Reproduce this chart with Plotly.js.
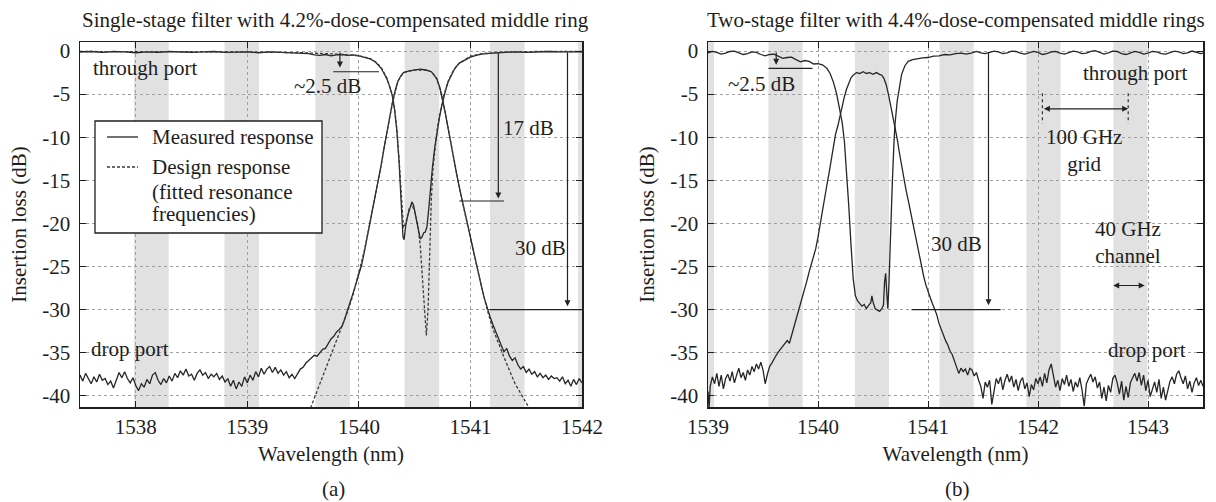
<!DOCTYPE html>
<html><head><meta charset="utf-8">
<script src="https://cdn.plot.ly/plotly-3.0.1.min.js"></script>
<style>html,body{margin:0;padding:0;background:#fff}#chart{width:1216px;height:502px}</style>
</head><body><div id="chart"></div>
<script>
// ---------- DATA ----------
const xTicksA = [1538, 1539, 1540, 1541, 1542];
const xTicksB = [1539, 1540, 1541, 1542, 1543];
const yTicks = [0, -5, -10, -15, -20, -25, -30, -35, -40];
const yTickText = ['0', '-5', '-10', '-15', '-20', '-25', '-30', '-35', '-40'];

// ITU 100 GHz grid channels (shaded 40 GHz bands)
const channelsA = [1538.14, 1538.95, 1539.765, 1540.565, 1541.33, 1542.12];
const channelsB = [1538.9, 1539.705, 1540.49, 1541.26, 1542.05, 1542.84];
const channelWidth = 0.31;

// (a) measured through port
const aThruWl = [1537.5,1537.6,1537.7,1537.8,1537.9,1538.0,1538.1,1538.2,1538.3,1538.4,1538.5,1538.6,1538.7,1538.8,1538.9,1539.0,1539.1,1539.2,1539.3,1539.4,1539.5,1539.55,1539.6,1539.65,1539.7,1539.75,1539.8,1539.85,1539.9,1539.95,1540.0,1540.05,1540.1,1540.15,1540.2,1540.225,1540.25,1540.275,1540.3,1540.32,1540.34,1540.36,1540.38,1540.395,1540.405,1540.42,1540.44,1540.46,1540.475,1540.49,1540.51,1540.53,1540.55,1540.565,1540.58,1540.595,1540.61,1540.625,1540.64,1540.66,1540.68,1540.7,1540.72,1540.74,1540.76,1540.78,1540.8,1540.83,1540.86,1540.9,1540.95,1541.0,1541.05,1541.1,1541.2,1541.3,1541.4,1541.5,1541.6,1541.7,1541.8,1541.9,1542.0];
const aThruDb = [-0.1,-0.05,-0.15,-0.05,-0.1,-0.2,-0.1,-0.15,-0.05,-0.1,-0.15,-0.1,-0.05,-0.15,-0.1,-0.1,-0.2,-0.1,-0.15,-0.2,-0.25,-0.3,-0.45,-0.5,-0.4,-0.55,-0.45,-0.4,-0.5,-0.45,-0.55,-0.7,-0.9,-1.3,-2.0,-2.6,-3.2,-4.1,-5.2,-6.8,-9.2,-12.8,-17.5,-21.5,-21.9,-20.2,-19.0,-18.0,-17.5,-17.9,-19.2,-20.8,-21.8,-21.6,-21.1,-21.0,-20.4,-18.5,-16.0,-13.4,-11.2,-9.4,-7.9,-6.5,-5.3,-4.4,-3.6,-2.7,-2.0,-1.4,-1.0,-0.7,-0.5,-0.35,-0.25,-0.15,-0.1,-0.15,-0.1,-0.05,-0.1,-0.1,-0.1];

// (a) measured drop port
const aDropWl = [1537.5,1537.525,1537.55,1537.575,1537.6,1537.625,1537.65,1537.675,1537.7,1537.725,1537.75,1537.775,1537.8,1537.825,1537.85,1537.875,1537.9,1537.925,1537.95,1537.975,1538.0,1538.025,1538.05,1538.075,1538.1,1538.125,1538.15,1538.175,1538.2,1538.225,1538.25,1538.275,1538.3,1538.325,1538.35,1538.375,1538.4,1538.425,1538.45,1538.475,1538.5,1538.525,1538.55,1538.575,1538.6,1538.625,1538.65,1538.675,1538.7,1538.725,1538.75,1538.775,1538.8,1538.825,1538.85,1538.875,1538.9,1538.925,1538.95,1538.975,1539.0,1539.025,1539.05,1539.075,1539.1,1539.125,1539.15,1539.175,1539.2,1539.225,1539.25,1539.275,1539.3,1539.325,1539.35,1539.375,1539.4,1539.425,1539.45,1539.475,1539.5,1539.525,1539.55,1539.575,1539.6,1539.625,1539.65,1539.675,1539.7,1539.725,1539.75,1539.775,1539.8,1539.825,1539.85,1539.875,1539.9,1539.925,1539.95,1539.975,1540.0,1540.025,1540.05,1540.075,1540.1,1540.125,1540.15,1540.175,1540.2,1540.225,1540.25,1540.275,1540.3,1540.325,1540.35,1540.375,1540.4,1540.45,1540.5,1540.55,1540.6,1540.65,1540.675,1540.7,1540.725,1540.75,1540.775,1540.8,1540.825,1540.85,1540.875,1540.9,1540.925,1540.95,1540.975,1541.0,1541.025,1541.05,1541.075,1541.1,1541.125,1541.15,1541.175,1541.2,1541.225,1541.25,1541.275,1541.3,1541.325,1541.35,1541.375,1541.4,1541.425,1541.45,1541.475,1541.5,1541.525,1541.55,1541.575,1541.6,1541.625,1541.65,1541.675,1541.7,1541.725,1541.75,1541.775,1541.8,1541.825,1541.85,1541.875,1541.9,1541.925,1541.95,1541.975,1542.0];
const aDropDb = [-37.6,-38.3,-37.4,-38.1,-38.6,-37.8,-38.4,-37.5,-38.2,-38.0,-38.7,-38.3,-39.1,-38.2,-37.3,-37.9,-37.2,-38.0,-38.5,-37.9,-38.8,-39.4,-38.6,-39.0,-38.1,-38.6,-37.6,-37.3,-38.2,-38.7,-38.0,-38.5,-37.7,-38.3,-37.4,-37.9,-37.1,-37.6,-36.9,-37.7,-37.5,-38.2,-37.4,-37.0,-37.6,-37.3,-38.0,-37.5,-37.8,-37.4,-38.1,-37.7,-38.4,-38.0,-38.9,-38.2,-39.2,-38.4,-38.9,-37.8,-38.5,-37.6,-38.2,-37.2,-37.8,-36.8,-37.5,-36.9,-36.6,-37.3,-36.7,-37.4,-37.0,-37.6,-37.2,-37.9,-37.5,-38.0,-37.4,-36.9,-36.7,-36.2,-35.9,-35.6,-35.3,-35.4,-35.0,-34.6,-34.5,-34.0,-33.4,-33.1,-32.6,-32.3,-31.9,-31.0,-30.1,-29.0,-28.0,-27.0,-25.9,-24.8,-23.2,-21.6,-19.9,-18.2,-16.5,-14.9,-13.2,-11.3,-9.4,-7.6,-6.0,-4.6,-3.5,-2.9,-2.5,-2.3,-2.2,-2.1,-2.2,-2.4,-2.8,-3.3,-4.2,-5.6,-7.2,-9.0,-10.9,-12.6,-14.2,-15.8,-17.3,-18.8,-20.3,-21.7,-23.1,-24.5,-26.0,-27.4,-28.7,-29.9,-30.8,-31.7,-32.6,-33.3,-34.1,-34.9,-34.5,-35.4,-35.9,-35.6,-36.4,-36.9,-36.6,-37.3,-36.9,-37.5,-37.2,-37.8,-37.4,-37.9,-37.6,-38.1,-37.7,-38.0,-37.9,-38.3,-37.8,-38.6,-38.2,-38.9,-38.1,-38.7,-38.0,-38.5];

// (a) design response (fitted resonance frequencies)
const aDesThruWl = [1537.5,1538.5,1539.0,1539.5,1539.8,1540.0,1540.1,1540.15,1540.2,1540.25,1540.3,1540.32,1540.34,1540.36,1540.38,1540.4,1540.42,1540.45,1540.475,1540.5,1540.53,1540.55,1540.57,1540.59,1540.605,1540.62,1540.635,1540.65,1540.665,1540.68,1540.7,1540.72,1540.74,1540.76,1540.8,1540.85,1540.9,1541.0,1541.1,1541.3,1541.6,1542.0];
const aDesThruDb = [-0.05,-0.05,-0.1,-0.2,-0.35,-0.55,-0.85,-1.25,-1.9,-3.1,-5.1,-6.7,-9.0,-12.5,-17.0,-20.5,-20.0,-18.3,-17.8,-18.6,-20.5,-22.5,-26.5,-31.0,-33.0,-30.0,-22.5,-17.0,-13.5,-11.3,-9.3,-7.6,-6.3,-5.2,-3.5,-2.2,-1.4,-0.6,-0.3,-0.1,-0.05,-0.05];
const aDesDropWl = [1539.4,1539.5,1539.57,1539.65,1539.75,1539.83,1539.9,1539.95,1540.0,1540.05,1540.1,1540.15,1540.2,1540.25,1540.3,1540.35,1540.4,1540.5,1540.6,1540.65,1540.7,1540.75,1540.8,1540.85,1540.9,1540.95,1541.0,1541.05,1541.1,1541.15,1541.2,1541.3,1541.4,1541.53,1541.6];
const aDesDropDb = [-45.5,-43.5,-41.3,-38.6,-35.2,-32.5,-30.2,-28.2,-25.8,-23.1,-19.9,-16.6,-13.2,-9.5,-6.1,-3.5,-2.5,-2.2,-2.2,-2.4,-3.2,-5.5,-8.9,-12.5,-15.8,-18.8,-21.7,-24.5,-27.4,-30.0,-32.2,-35.5,-38.6,-41.5,-43.5];

// (b) measured through port
const bThruWl = [1539.0,1539.04,1539.08,1539.12,1539.16,1539.2,1539.24,1539.28,1539.32,1539.36,1539.4,1539.44,1539.48,1539.52,1539.56,1539.6,1539.64,1539.68,1539.72,1539.76,1539.8,1539.84,1539.88,1539.92,1539.96,1540.0,1540.04,1540.08,1540.11,1540.14,1540.17,1540.2,1540.22,1540.24,1540.26,1540.28,1540.3,1540.32,1540.34,1540.36,1540.38,1540.4,1540.42,1540.44,1540.46,1540.48,1540.49,1540.5,1540.52,1540.54,1540.56,1540.58,1540.595,1540.605,1540.615,1540.625,1540.635,1540.645,1540.66,1540.675,1540.69,1540.7,1540.72,1540.74,1540.76,1540.79,1540.82,1540.86,1540.9,1540.95,1541.0,1541.05,1541.1,1541.15,1541.2,1541.25,1541.3,1541.35,1541.4,1541.44,1541.48,1541.52,1541.56,1541.6,1541.64,1541.68,1541.72,1541.76,1541.8,1541.84,1541.88,1541.92,1541.96,1542.0,1542.04,1542.08,1542.12,1542.16,1542.2,1542.24,1542.28,1542.32,1542.36,1542.4,1542.44,1542.48,1542.52,1542.56,1542.6,1542.64,1542.68,1542.72,1542.76,1542.8,1542.84,1542.88,1542.92,1542.96,1543.0,1543.04,1543.08,1543.12,1543.16,1543.2,1543.24,1543.28,1543.32,1543.36,1543.4,1543.44,1543.48,1543.5];
const bThruDb = [-0.2,-0.05,-0.15,-0.35,-0.25,-0.05,0.0,-0.2,-0.4,-0.3,-0.1,-0.15,-0.4,-0.55,-0.4,-0.35,-0.6,-0.85,-0.75,-0.7,-1.0,-1.25,-1.1,-1.2,-1.5,-1.45,-1.6,-2.0,-2.6,-3.6,-5.0,-6.8,-8.3,-10.5,-14.0,-18.0,-22.5,-26.4,-28.4,-29.0,-29.3,-29.6,-29.4,-29.9,-29.5,-29.2,-28.4,-29.1,-29.9,-30.1,-30.2,-29.9,-29.5,-26.8,-25.8,-28.0,-29.9,-27.0,-20.5,-15.5,-10.8,-8.5,-5.8,-4.0,-2.7,-1.7,-1.2,-1.0,-0.9,-0.8,-0.75,-0.6,-0.55,-0.4,-0.45,-0.3,-0.25,-0.35,-0.2,-0.05,-0.2,-0.3,-0.15,0.0,-0.1,-0.3,-0.2,0.0,-0.05,-0.25,-0.35,-0.2,-0.05,-0.15,-0.4,-0.3,-0.1,-0.05,-0.25,-0.35,-0.15,0.0,-0.1,-0.3,-0.25,-0.05,0.05,-0.15,-0.35,-0.2,0.0,-0.05,-0.3,-0.4,-0.2,-0.05,-0.15,-0.35,-0.25,-0.05,-0.1,-0.3,-0.35,-0.15,0.0,-0.1,-0.3,-0.2,0.0,-0.15,-0.3,-0.25];

// (b) measured drop port
const bDropWl = [1539.0,1539.01,1539.02,1539.04,1539.06,1539.08,1539.1,1539.12,1539.14,1539.16,1539.18,1539.2,1539.22,1539.24,1539.26,1539.28,1539.3,1539.32,1539.34,1539.36,1539.38,1539.4,1539.42,1539.44,1539.46,1539.48,1539.5,1539.52,1539.54,1539.56,1539.58,1539.6,1539.62,1539.64,1539.66,1539.68,1539.7,1539.72,1539.74,1539.76,1539.78,1539.8,1539.82,1539.84,1539.86,1539.88,1539.9,1539.92,1539.94,1539.96,1539.98,1540.0,1540.02,1540.04,1540.06,1540.08,1540.1,1540.12,1540.14,1540.16,1540.18,1540.2,1540.22,1540.24,1540.26,1540.28,1540.3,1540.32,1540.35,1540.38,1540.41,1540.44,1540.47,1540.5,1540.53,1540.56,1540.58,1540.6,1540.62,1540.64,1540.66,1540.68,1540.7,1540.72,1540.74,1540.76,1540.78,1540.8,1540.82,1540.84,1540.86,1540.88,1540.9,1540.92,1540.94,1540.96,1540.98,1541.0,1541.02,1541.04,1541.06,1541.08,1541.1,1541.12,1541.14,1541.16,1541.18,1541.2,1541.22,1541.24,1541.26,1541.28,1541.3,1541.32,1541.34,1541.36,1541.38,1541.4,1541.42,1541.44,1541.46,1541.48,1541.5,1541.52,1541.54,1541.56,1541.58,1541.6,1541.62,1541.64,1541.66,1541.68,1541.7,1541.72,1541.74,1541.76,1541.78,1541.8,1541.82,1541.84,1541.86,1541.88,1541.9,1541.92,1541.94,1541.96,1541.98,1542.0,1542.02,1542.04,1542.06,1542.08,1542.1,1542.12,1542.14,1542.16,1542.18,1542.2,1542.22,1542.24,1542.26,1542.28,1542.3,1542.32,1542.34,1542.36,1542.38,1542.4,1542.42,1542.44,1542.46,1542.48,1542.5,1542.52,1542.54,1542.56,1542.58,1542.6,1542.62,1542.64,1542.66,1542.68,1542.7,1542.72,1542.74,1542.76,1542.78,1542.8,1542.82,1542.84,1542.86,1542.88,1542.9,1542.92,1542.94,1542.96,1542.98,1543.0,1543.02,1543.04,1543.06,1543.08,1543.1,1543.12,1543.14,1543.16,1543.18,1543.2,1543.22,1543.24,1543.26,1543.28,1543.3,1543.32,1543.34,1543.36,1543.38,1543.4,1543.42,1543.44,1543.46,1543.48,1543.5];
const bDropDb = [-39.5,-41.5,-38.9,-37.8,-38.6,-37.4,-38.9,-37.6,-39.2,-38.0,-37.5,-38.3,-37.2,-38.5,-37.6,-36.8,-37.9,-37.3,-38.2,-37.0,-37.6,-36.6,-37.2,-36.3,-36.9,-36.1,-37.0,-38.6,-37.5,-36.6,-36.2,-35.7,-35.3,-34.9,-34.6,-34.3,-34.0,-33.6,-33.9,-33.0,-32.3,-31.4,-30.5,-29.6,-28.6,-27.6,-26.6,-25.6,-24.7,-23.8,-22.9,-21.6,-20.0,-18.6,-17.2,-15.6,-14.2,-12.6,-11.1,-9.6,-8.7,-7.6,-6.2,-5.3,-4.4,-3.7,-3.1,-2.8,-2.5,-2.6,-2.4,-2.6,-2.5,-2.7,-2.5,-2.7,-2.8,-3.2,-3.9,-5.0,-6.2,-7.4,-8.6,-10.2,-11.8,-13.4,-14.8,-16.1,-17.3,-18.6,-19.9,-21.3,-22.6,-23.8,-25.0,-26.1,-27.1,-28.0,-28.6,-29.3,-30.0,-30.6,-31.6,-32.3,-33.1,-33.6,-34.1,-34.8,-35.2,-36.0,-36.6,-37.4,-36.8,-37.2,-36.9,-37.6,-36.8,-37.0,-37.7,-37.3,-38.2,-38.9,-40.3,-38.4,-39.0,-38.2,-41.0,-39.6,-38.0,-38.6,-37.8,-39.3,-38.2,-37.5,-38.4,-37.7,-39.0,-38.1,-39.4,-38.3,-37.9,-39.2,-38.5,-40.1,-38.7,-39.3,-38.0,-38.6,-37.8,-38.9,-37.4,-38.5,-37.0,-36.3,-37.8,-39.0,-38.2,-39.4,-38.0,-38.7,-37.6,-38.9,-38.1,-39.5,-38.4,-39.0,-37.9,-39.3,-41.2,-38.6,-38.0,-37.5,-38.4,-37.8,-39.1,-38.4,-40.3,-39.0,-40.6,-38.8,-39.6,-38.0,-37.6,-38.5,-39.8,-38.3,-40.5,-38.9,-40.2,-38.5,-37.9,-37.4,-38.3,-37.3,-38.8,-37.6,-39.4,-38.2,-40.1,-39.3,-38.4,-39.6,-38.1,-40.3,-39.0,-40.5,-39.2,-38.3,-37.8,-38.6,-37.5,-37.1,-37.9,-38.6,-37.7,-39.2,-38.3,-39.6,-38.5,-37.9,-38.8,-38.2,-38.9];

const legendNames = ['Measured response', 'Design response', '(fitted resonance', 'frequencies)'];

// ---------- STYLE ----------
const FONT = 'Liberation Serif';
const INK = '#1e1e1e';
const solid = {color: '#262626', width: 1.3};
const dashed = {color: '#3a3a3a', width: 1.3, dash: '3px,2px'};

const traces = [
  {x: aThruWl, y: aThruDb, xaxis: 'x', yaxis: 'y', mode: 'lines', line: solid, name: 'Measured response (through port)'},
  {x: aDropWl, y: aDropDb, xaxis: 'x', yaxis: 'y', mode: 'lines', line: solid, name: 'Measured response (drop port)'},
  {x: aDesThruWl, y: aDesThruDb, xaxis: 'x', yaxis: 'y', mode: 'lines', line: dashed, name: 'Design response (through port)'},
  {x: aDesDropWl, y: aDesDropDb, xaxis: 'x', yaxis: 'y', mode: 'lines', line: dashed, name: 'Design response (drop port)'},
  {x: bThruWl, y: bThruDb, xaxis: 'x2', yaxis: 'y2', mode: 'lines', line: solid, name: 'through port (b)'},
  {x: bDropWl, y: bDropDb, xaxis: 'x2', yaxis: 'y2', mode: 'lines', line: solid, name: 'drop port (b)'}
];

const M = {l: 80, r: 13, t: 42, b: 95};
const W = 1216, H = 502;
const pw = W - M.l - M.r, ph = H - M.t - M.b;
const px = v => (v - M.l) / pw;   // page x -> paper x
const py = v => (H - M.b - v) / ph; // page y -> paper y

function xAxis(range, ticks, dom) {
  return {
    domain: dom, range: range, tickmode: 'array', tickvals: ticks, ticktext: ticks.map(String),
    ticks: 'inside', ticklen: 6, tickcolor: INK, showline: true, linecolor: INK, linewidth: 1.5,
    mirror: 'allticks', showgrid: true, gridcolor: '#a0a0a0', griddash: 'dot', gridwidth: 1, zeroline: false,
    tickfont: {family: FONT, size: 21, color: INK},
    title: {text: 'Wavelength (nm)', font: {family: FONT, size: 21, color: INK}, standoff: 8}
  };
}
function yAxis(anchor) {
  return {
    anchor: anchor, domain: [0, 1], range: [-41.3, 1.05], tickmode: 'array', tickvals: yTicks, ticktext: yTickText,
    ticks: 'inside', ticklen: 6, tickcolor: INK, showline: true, linecolor: INK, linewidth: 1.5,
    mirror: 'allticks', showgrid: true, gridcolor: '#a0a0a0', griddash: 'dot', gridwidth: 1, zeroline: false,
    tickfont: {family: FONT, size: 21, color: INK}, ticklabelstandoff: 4,
    title: {text: 'Insertion loss (dB)', font: {family: FONT, size: 21, color: INK}, standoff: 10}
  };
}

const shapes = [];
channelsA.forEach(c => shapes.push({type: 'rect', xref: 'x', yref: 'y domain', x0: c - channelWidth / 2, x1: c + channelWidth / 2, y0: 0, y1: 1, fillcolor: '#e1e1e1', line: {width: 0}, layer: 'below'}));
channelsB.forEach(c => shapes.push({type: 'rect', xref: 'x2', yref: 'y2 domain', x0: c - channelWidth / 2, x1: c + channelWidth / 2, y0: 0, y1: 1, fillcolor: '#e1e1e1', line: {width: 0}, layer: 'below'}));
const guide = {color: '#222', width: 1.2};
function hline(xr, yr, x0, x1, y) { shapes.push({type: 'line', xref: xr, yref: yr, x0: x0, x1: x1, y0: y, y1: y, line: guide}); }
function vdash(xr, yr, x, y0, y1) { shapes.push({type: 'line', xref: xr, yref: yr, x0: x, x1: x, y0: y0, y1: y1, line: {color: '#333', width: 1.2, dash: 'dot'}}); }
hline('x', 'y', 1539.77, 1540.18, -2.4);
hline('x', 'y', 1540.9, 1541.3, -17.4);
hline('x', 'y', 1541.17, 1542.0, -30);
hline('x2', 'y2', 1539.55, 1539.95, -2.0);
hline('x2', 'y2', 1540.85, 1541.66, -30);
vdash('x2', 'y2', 1542.04, -4.9, -8.4);
vdash('x2', 'y2', 1542.82, -4.9, -8.4);

// legend box (panel a), drawn in page coordinates
shapes.push({type: 'rect', xref: 'paper', yref: 'paper', x0: px(95), x1: px(322), y0: py(233), y1: py(121), fillcolor: '#fff', line: {color: INK, width: 1.3}, layer: 'above'});
shapes.push({type: 'line', xref: 'paper', yref: 'paper', x0: px(107), x1: px(138), y0: py(137), y1: py(137), line: {color: '#262626', width: 1.3}});
shapes.push({type: 'line', xref: 'paper', yref: 'paper', x0: px(107), x1: px(138), y0: py(167), y1: py(167), line: {color: '#3a3a3a', width: 1.3, dash: '3px,2px'}});

const tf = {family: FONT, size: 21, color: INK};
function label(xr, yr, x, y, text, xa) { return {xref: xr, yref: yr, x: x, y: y, text: text, showarrow: false, font: tf, xanchor: xa || 'center', yanchor: 'middle'}; }
function pageLabel(x, y, text, xa) { return {xref: 'paper', yref: 'paper', x: px(x), y: py(y), text: text, showarrow: false, font: tf, xanchor: xa || 'center', yanchor: 'middle'}; }
function arrow(xr, yr, x, y0, y1) { return {xref: xr, yref: yr, axref: xr, ayref: yr, x: x, y: y1, ax: x, ay: y0, text: '', showarrow: true, arrowhead: 2, arrowsize: 1, arrowwidth: 1.2, arrowcolor: '#222'}; }
function darrow(xr, yr, x0, x1, y) { return {xref: xr, yref: yr, axref: xr, ayref: yr, x: x1, y: y, ax: x0, ay: y, text: '', showarrow: true, arrowhead: 2, startarrowhead: 2, arrowside: 'end+start', arrowsize: 1, arrowwidth: 1.2, arrowcolor: '#222'}; }

const annotations = [
  pageLabel(335, 20, 'Single-stage filter with 4.2%-dose-compensated middle ring'),
  pageLabel(956, 20, 'Two-stage filter with 4.4%-dose-compensated middle rings'),
  pageLabel(333, 489, '(a)'),
  pageLabel(957, 489, '(b)'),
  pageLabel(150, 137, legendNames[0], 'left'),
  pageLabel(150, 167, legendNames[1], 'left'),
  pageLabel(150, 192, legendNames[2], 'left'),
  pageLabel(150, 214, legendNames[3], 'left'),
  label('x', 'y', 1537.6, -2.0, 'through port', 'left'),
  label('x', 'y', 1537.58, -34.6, 'drop port', 'left'),
  label('x', 'y', 1539.72, -4.1, '~2.5 dB'),
  label('x', 'y', 1541.52, -8.9, '17 dB'),
  label('x', 'y', 1541.63, -22.8, '30 dB'),
  arrow('x', 'y', 1539.83, 0, -1.9),
  arrow('x', 'y', 1541.25, 0, -17.1),
  arrow('x', 'y', 1541.87, 0, -29.6),
  label('x2', 'y2', 1539.49, -3.8, '~2.5 dB'),
  label('x2', 'y2', 1543.38, -2.6, 'through port', 'right'),
  label('x2', 'y2', 1542.42, -11.5, '100 GHz<br>grid'),
  label('x2', 'y2', 1542.82, -22.2, '40 GHz<br>channel'),
  label('x2', 'y2', 1541.26, -22.4, '30 dB'),
  label('x2', 'y2', 1543.36, -34.7, 'drop port', 'right'),
  arrow('x2', 'y2', 1539.62, 0, -1.6),
  arrow('x2', 'y2', 1541.55, 0, -29.5),
  darrow('x2', 'y2', 1542.04, 1542.82, -6.7),
  darrow('x2', 'y2', 1542.67, 1542.97, -27.2)
];

const layout = {
  width: W, height: H, margin: M, paper_bgcolor: '#fff', plot_bgcolor: '#fff',
  font: {family: FONT, size: 21, color: INK},
  xaxis: Object.assign(xAxis([1537.5, 1542], xTicksA, [0, px(582)]), {anchor: 'y'}),
  yaxis: yAxis('x'),
  xaxis2: Object.assign(xAxis([1539, 1543.5], xTicksB, [px(708), 1]), {anchor: 'y2'}),
  yaxis2: yAxis('x2'),
  showlegend: false,
  shapes: shapes, annotations: annotations
};

Plotly.newPlot('chart', traces, layout, {staticPlot: true, displayModeBar: false});
</script></body></html>
